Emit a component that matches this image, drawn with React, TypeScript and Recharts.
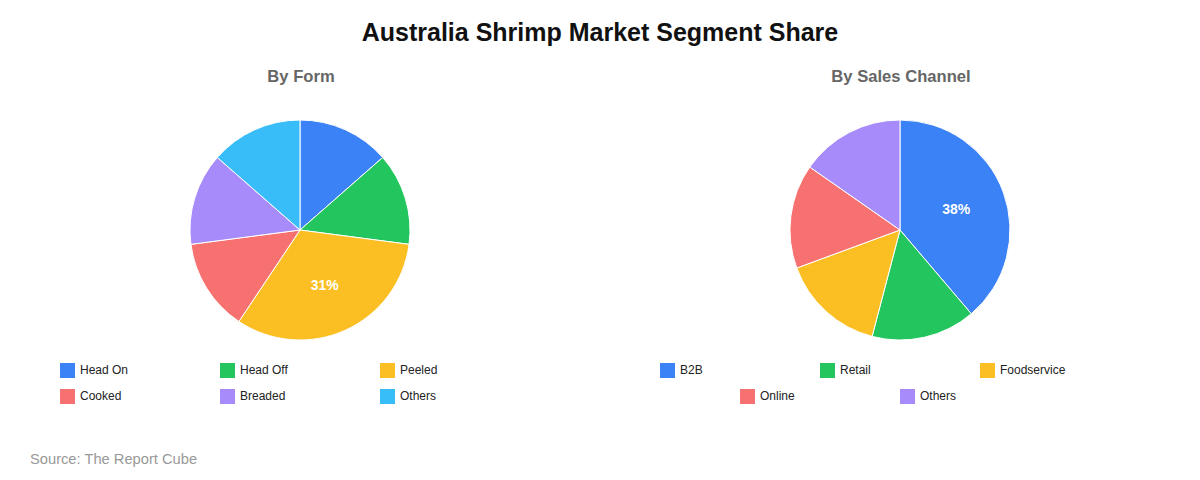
import React from 'react';
import { PieChart, Pie, Cell, Legend } from 'recharts';

const formNames = ['Head On', 'Head Off', 'Peeled', 'Cooked', 'Breaded', 'Others'];
const formValues = [13, 13, 31, 13, 13, 13];
const formColors = ['#3B82F6', '#22C55E', '#FBBF24', '#F87171', '#A78BFA', '#38BDF8'];

const channelNames = ['B2B', 'Retail', 'Foodservice', 'Online', 'Others'];
const channelValues = [38, 15, 15, 15, 15];
const channelColors = ['#3B82F6', '#22C55E', '#FBBF24', '#F87171', '#A78BFA'];

const FONT = '"Liberation Sans", Arial, Helvetica, sans-serif';
const RAD = Math.PI / 180;

const renderLabel = (props: any) => {
  const { cx, cy, midAngle, value } = props;
  if (value < 20) return null;
  const r = 60;
  const x = cx + r * Math.cos(-midAngle * RAD);
  const y = cy + r * Math.sin(-midAngle * RAD);
  return (
    <text x={x} y={y} fill="#ffffff" textAnchor="middle" dominantBaseline="central"
      style={{ fontFamily: FONT, fontSize: 14, fontWeight: 700 }}>
      {`${value}%`}
    </text>
  );
};

const makeLegend = (names: string[], colors: string[]) => () => (
  <div style={{ display: 'flex', flexWrap: 'wrap', justifyContent: 'center', width: 480, fontFamily: FONT }}>
    {names.map((n, i) => (
      <div key={n} style={{ width: 160, height: 26, display: 'flex', alignItems: 'center' }}>
        <span style={{ width: 15, height: 15, background: colors[i], marginRight: 5, display: 'inline-block' }} />
        <span style={{ fontSize: 12, color: '#222' }}>{n}</span>
      </div>
    ))}
  </div>
);

function SegmentPie({ names, values, colors, left, title }: any) {
  const data = names.map((n: string, i: number) => ({ name: n, value: values[i] }));
  return (
    <div style={{ position: 'absolute', left, top: 0, width: 600, height: 480 }}>
      <div style={{ position: 'absolute', top: 67, left: 1, width: 600, textAlign: 'center', fontFamily: FONT, fontSize: 16.6, fontWeight: 700, color: '#666' }}>
        {title}
      </div>
      <PieChart width={600} height={480} margin={{ top: 0, right: 0, bottom: 0, left: 0 }}>
        <Pie data={data} dataKey="value" nameKey="name" cx={300} cy={230} outerRadius={110}
          startAngle={90} endAngle={-270} stroke="#ffffff" strokeWidth={1}
          label={renderLabel} labelLine={false} isAnimationActive={false}>
          {data.map((d: any, i: number) => <Cell key={d.name} fill={colors[i]} />)}
        </Pie>
        <Legend content={makeLegend(names, colors)} verticalAlign="bottom"
          wrapperStyle={{ position: 'absolute', top: 357, left: 60, width: 480, bottom: 'auto' }} />
      </PieChart>
    </div>
  );
}

export default function App() {
  return (
    <div style={{ position: 'absolute', left: 0, top: 0, width: 1200, height: 480, background: '#fff', overflow: 'hidden' }}>
      <div style={{ position: 'absolute', top: 18, left: 0, width: 1200, textAlign: 'center', fontFamily: FONT, fontSize: 25, fontWeight: 700, color: '#111' }}>
        Australia Shrimp Market Segment Share
      </div>
      <SegmentPie names={formNames} values={formValues} colors={formColors} left={0} title="By Form" />
      <SegmentPie names={channelNames} values={channelValues} colors={channelColors} left={600} title="By Sales Channel" />
      <div style={{ position: 'absolute', top: 451, left: 30, fontFamily: FONT, fontSize: 14.7, color: '#999' }}>
        Source: The Report Cube
      </div>
    </div>
  );
}
